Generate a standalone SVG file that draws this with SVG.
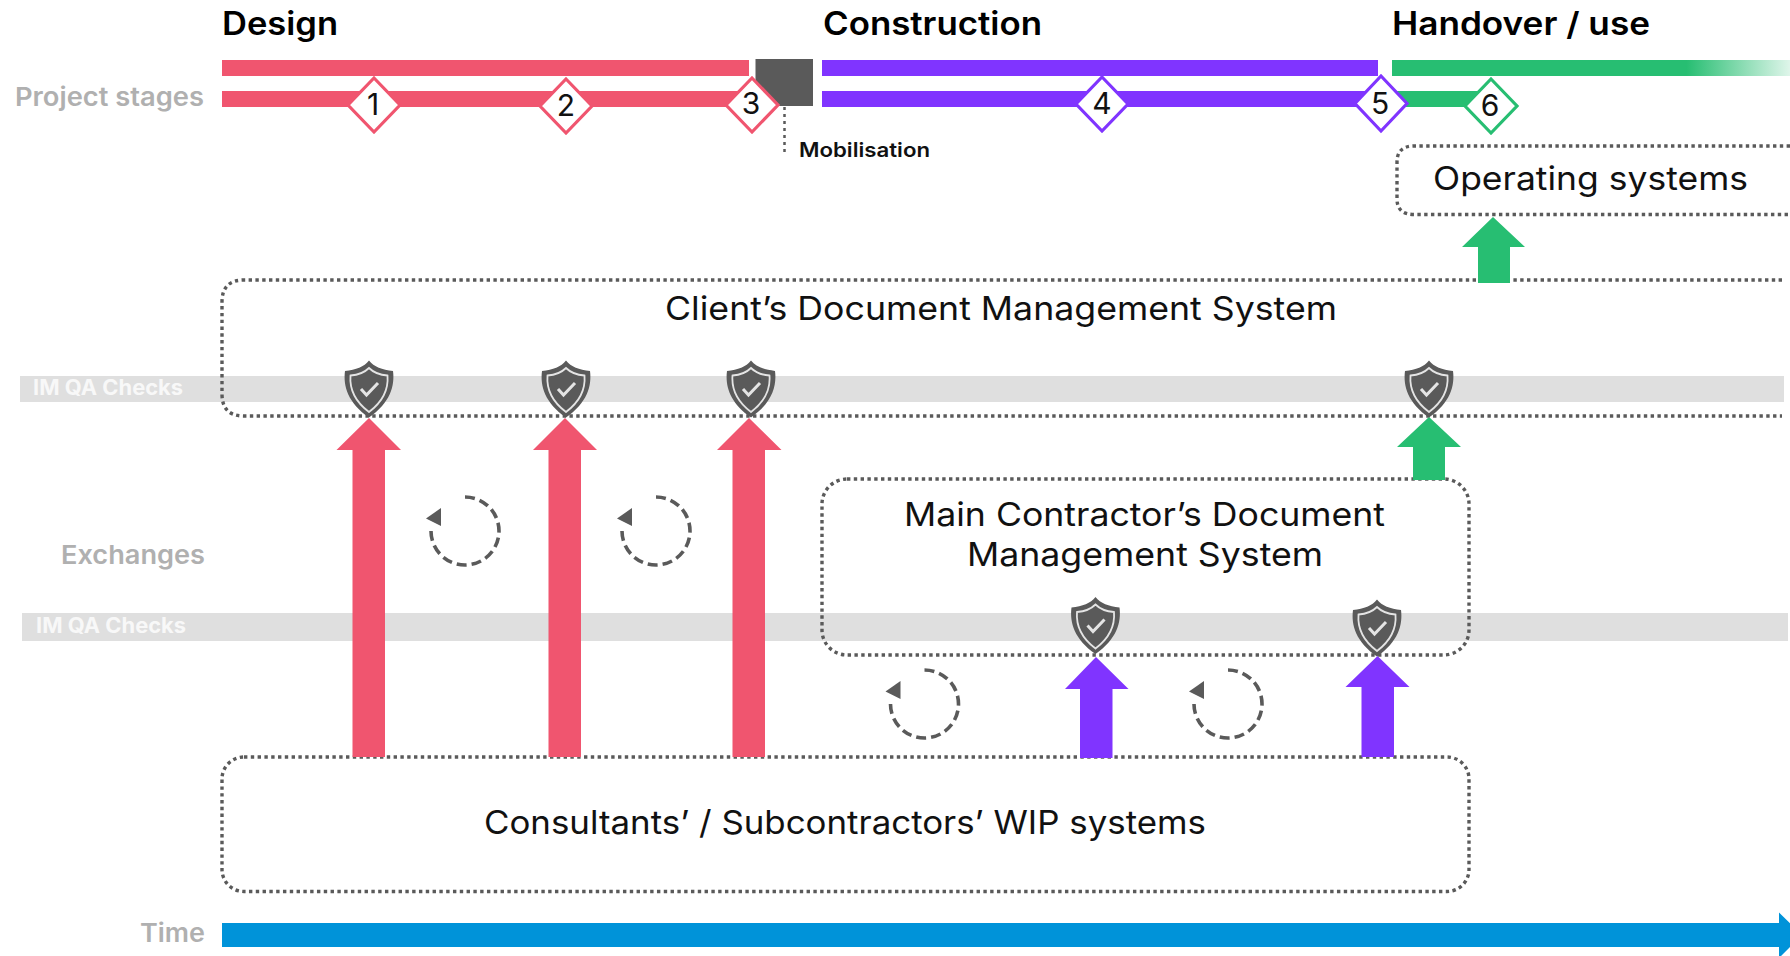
<svg xmlns="http://www.w3.org/2000/svg" xmlns:xlink="http://www.w3.org/1999/xlink" width="1790" height="956" viewBox="0 0 1790 956">
<style>
text{font-family:"Inter","Open Sans","Liberation Sans",sans-serif}
.stage{font-size:32px;font-weight:600;fill:#000}
.side{font-size:26px;font-weight:600;fill:#b0b0b0}
.sys{font-size:33px;font-weight:400;fill:#111;text-anchor:start}
.chk{font-size:21px;font-weight:700;fill:#f8f8f8}
.num{font-size:30px;font-weight:400;fill:#111;text-anchor:middle}
.dot{fill:none;stroke:#5a5a5a;stroke-width:3.4;stroke-dasharray:3.4 3.4}
.loop{fill:none;stroke:#5a5a5a;stroke-width:3.6;stroke-dasharray:10 5}
.dia{fill:#fff;stroke-width:3.2}
.red{fill:#f0556f}.pur{fill:#8034ff}.grn{fill:#27be72}.band{fill:#dfdfdf}
</style>
<defs>
<linearGradient id="fade" x1="1392" x2="1790" y1="0" y2="0" gradientUnits="userSpaceOnUse">
<stop offset="0" stop-color="#27be72"/><stop offset="0.74" stop-color="#27be72"/><stop offset="1" stop-color="#27be72" stop-opacity="0.15"/>
</linearGradient>
<g id="shield">
<path d="M0-28.500 C5-22 13-19.500 24-18 C26-3 21 14 0 28.500 C-21 14-26-3-24-18 C-13-19.500-5-22 0-28.500Z" fill="#5a5a5a"/>
<path d="M0-21 C5-16 12-14 18.500-13.500 C19.500-1 16 11 0 23 C-16 11-19.500-1-18.500-13.500 C-12-14-5-16 0-21Z" fill="none" stroke="#e4e4e4" stroke-width="1.800"/>
<path d="M-8 0 L-2.500 6 L9-6" fill="none" stroke="#e4e4e4" stroke-width="3"/>
</g>
<g id="loopShape">
<path class="loop" d="M0-34 A34 34 0 1 1-34 0"/>
<polygon points="-39,-12.500 -24,-23 -24,-5" fill="#5a5a5a"/>
</g>
</defs>

<g id="stage-bars">
<rect class="red" x="222" y="60" width="527" height="16"/>
<rect class="red" x="222" y="91" width="535" height="16"/>
<rect class="pur" x="822" y="60" width="556" height="16"/>
<rect class="pur" x="822" y="91" width="556" height="16"/>
<rect x="1392" y="60" width="398" height="16" fill="url(#fade)"/>
<rect class="grn" x="1392" y="91" width="90" height="16"/>
</g>

<g id="bands">
<rect class="band" x="20" y="376" width="1764" height="26"/>
<rect class="band" x="22" y="613" width="1766" height="28"/>
</g>

<g id="mobilisation">
<rect x="755.500" y="59" width="57.500" height="47" fill="#5a5a5a"/>
<line x1="784.500" y1="107" x2="784.500" y2="152" stroke="#5a5a5a" stroke-width="2.500" stroke-dasharray="3 4"/>
<text x="799" y="157" font-size="20" font-weight="600" fill="#111" textLength="131" lengthAdjust="spacingAndGlyphs">Mobilisation</text>
</g>

<g id="headings">
<text class="stage" x="222" y="35" textLength="116" lengthAdjust="spacingAndGlyphs">Design</text>
<text class="stage" x="823" y="35" textLength="219" lengthAdjust="spacingAndGlyphs">Construction</text>
<text class="stage" x="1392" y="35" textLength="258" lengthAdjust="spacingAndGlyphs">Handover / use</text>
<text class="side" x="15" y="106" textLength="189" lengthAdjust="spacingAndGlyphs">Project stages</text>
<text class="side" x="61" y="564" textLength="144" lengthAdjust="spacingAndGlyphs">Exchanges</text>
<text class="side" x="140" y="942" textLength="65" lengthAdjust="spacingAndGlyphs">Time</text>
<text class="chk" x="33" y="395" textLength="150" lengthAdjust="spacingAndGlyphs">IM QA Checks</text>
<text class="chk" x="36" y="633" textLength="150" lengthAdjust="spacingAndGlyphs">IM QA Checks</text>
</g>

<g id="node-operating-systems">
<path class="dot" d="M1790 146 H1414 Q1397 146 1397 162 V199 Q1397 214.500 1414 214.500 H1790"/>
<text class="sys" x="1433" y="190" textLength="315" lengthAdjust="spacingAndGlyphs">Operating systems</text>
</g>
<g id="node-client-dms">
<path class="dot" d="M1782 280 H244 Q222 280 222 302 V394 Q222 416 244 416 H1782"/>
<text class="sys" x="665" y="320" textLength="672" lengthAdjust="spacingAndGlyphs">Client’s Document Management System</text>
</g>
<g id="node-main-contractor-dms">
<rect class="dot" x="822" y="479" width="647" height="176" rx="25"/>
<text class="sys" x="904" y="526" textLength="481" lengthAdjust="spacingAndGlyphs">Main Contractor’s Document</text>
<text class="sys" x="967" y="566" textLength="356" lengthAdjust="spacingAndGlyphs">Management System</text>
</g>
<g id="node-wip-systems">
<rect class="dot" x="222" y="757" width="1247" height="134.500" rx="22"/>
<text class="sys" x="484" y="834" textLength="722" lengthAdjust="spacingAndGlyphs">Consultants’ / Subcontractors’ WIP systems</text>
</g>

<g id="connectors">
<polygon class="red" points="369,418 401,450 385,450 385,757 352.500,757 352.500,450 336.500,450"/>
<polygon class="red" points="565,418 597,450 581,450 581,757 548.500,757 548.500,450 533,450"/>
<polygon class="red" points="749,418 781.500,450 765,450 765,757 732.500,757 732.500,450 717,450"/>
<polygon class="pur" points="1096,657 1128.500,689 1112.500,689 1112.500,758 1080,758 1080,689 1065,689"/>
<polygon class="pur" points="1377.500,656 1409.500,687 1394,687 1394,757 1361.500,757 1361.500,687 1345.500,687"/>
<polygon class="grn" points="1429,417 1461,447 1445,447 1445,480 1413,480 1413,447 1397,447"/>
<polygon class="grn" points="1493,217 1525,247 1510,247 1510,283 1478,283 1478,247 1462,247"/>
<use xlink:href="#loopShape" href="#loopShape" x="465" y="531"/>
<use xlink:href="#loopShape" href="#loopShape" x="656" y="531"/>
<use xlink:href="#loopShape" href="#loopShape" x="924.500" y="704"/>
<use xlink:href="#loopShape" href="#loopShape" x="1228" y="704"/>
<polygon points="222,923 1779,923 1779,912.500 1802,935 1779,958 1779,947 222,947" fill="#0093d9"/>
</g>

<g id="checks">
<use xlink:href="#shield" href="#shield" x="369" y="389"/>
<use xlink:href="#shield" href="#shield" x="566" y="389"/>
<use xlink:href="#shield" href="#shield" x="751" y="389"/>
<use xlink:href="#shield" href="#shield" x="1429" y="389"/>
<use xlink:href="#shield" href="#shield" x="1095.500" y="625.500"/>
<use xlink:href="#shield" href="#shield" x="1377" y="628"/>
</g>

<g id="gate-1"><polygon class="dia" stroke="#f0556f" points="374,78 400,105 374,132 348,105"/><text class="num" x="373" y="115">1</text></g>
<g id="gate-2"><polygon class="dia" stroke="#f0556f" points="566,79 592,106 566,133 540,106"/><text class="num" x="566" y="116">2</text></g>
<g id="gate-3"><polygon class="dia" stroke="#f0556f" points="752,78 778,105 752,132 726,105"/><text class="num" x="751" y="114">3</text></g>
<g id="gate-4"><polygon class="dia" stroke="#8034ff" points="1102,77 1128,104 1102,131 1076,104"/><text class="num" x="1102" y="114">4</text></g>
<g id="gate-5"><polygon class="dia" stroke="#8034ff" points="1381,76 1407,103.500 1381,131 1355,103.500"/><text class="num" x="1380" y="114">5</text></g>
<g id="gate-6"><polygon class="dia" stroke="#27be72" points="1491,79 1517,106 1491,133 1465,106"/><text class="num" x="1490" y="116">6</text></g>
</svg>
